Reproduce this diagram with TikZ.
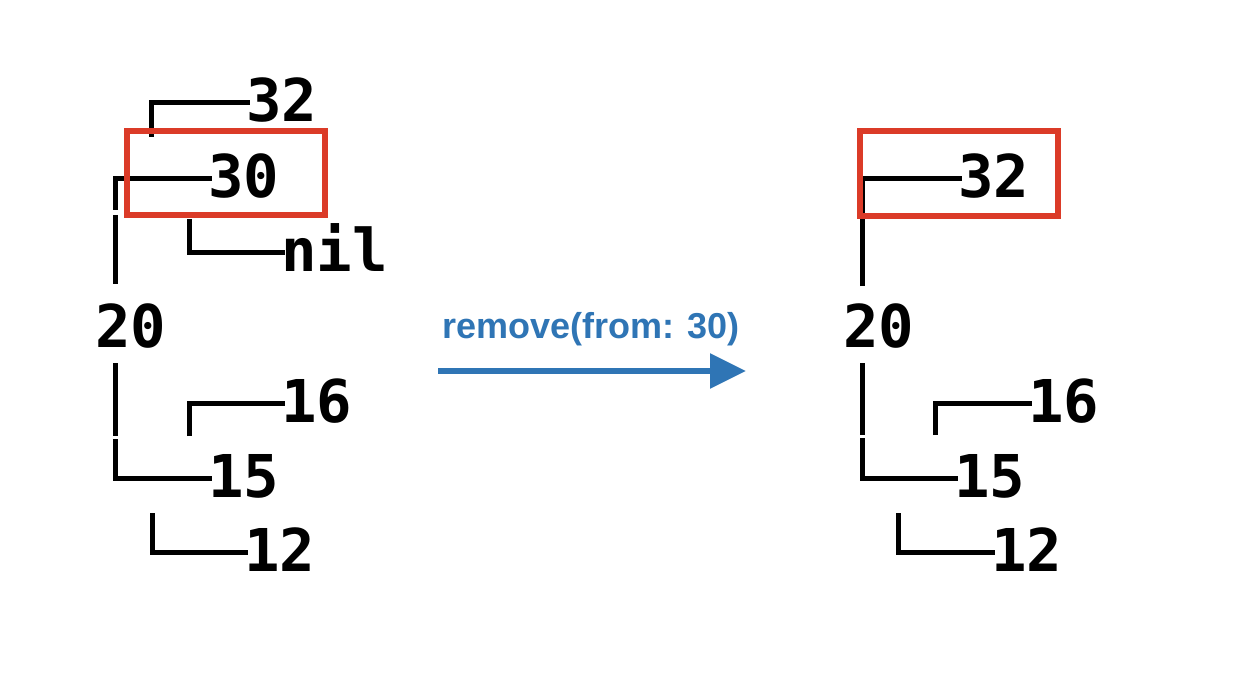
\documentclass[tikz,border=0pt]{standalone}
\usepackage{fontspec}
\usetikzlibrary{arrows.meta}
\newfontfamily\monof{DejaVu Sans Mono}
\newfontfamily\labf{Liberation Sans}
\definecolor{boxred}{HTML}{DB3B28}
\definecolor{arrowblue}{HTML}{2F75B5}
\tikzset{
  tnode/.style={font=\monof\bfseries\fontsize{59}{59}\selectfont, inner sep=0pt, outer sep=0pt,
    text height=38pt, text depth=0pt, anchor=west},
  br/.style={line width=5pt, shorten >=-4pt},
  vbar/.style={line width=5pt},
  hl/.style={draw=boxred, line width=6pt},
}
\begin{document}
\begin{tikzpicture}[x=1pt,y=-1pt]
\useasboundingbox[fill=white] (0,0) rectangle (1246,676);
% ---- left tree
\node[tnode] (L32) at (246,103) {32};
\node[tnode] (L30) at (208,179) {30};
\node[tnode] (Lnil) at (281,252) {nil};
\node[tnode] (L20) at (95,328) {20};
\node[tnode] (L16) at (281,403) {16};
\node[tnode] (L15) at (208,478) {15};
\node[tnode] (L12) at (244,552) {12};
\coordinate (c32) at (151,137);
\coordinate (c30) at (115,210);
\coordinate (v1a) at (115,215);
\coordinate (v1b) at (115,284);
\coordinate (cnil) at (189,219);
\coordinate (v2a) at (115,363);
\coordinate (v2b) at (115,436);
\coordinate (c16) at (189,436);
\coordinate (c15) at (115,439);
\coordinate (c12) at (152,513);
\draw[br] (c32) |- (L32.west);
\draw[br] (c30) |- (L30.west);
\draw[vbar] (v1a) -- (v1b);
\draw[br] (cnil) |- (Lnil.west);
\draw[vbar] (v2a) -- (v2b);
\draw[br] (c16) |- (L16.west);
\draw[br] (c15) |- (L15.west);
\draw[br] (c12) |- (L12.west);
\node[hl, inner sep=0pt, minimum width=198pt, minimum height=84pt] (Lbox) at (226,173) {};
% ---- arrow
\coordinate (a1) at (438,371);
\coordinate (a2) at (746,371);
\draw[draw=arrowblue, line width=6pt, -{Triangle[length=36pt,width=34pt]}] (a1) -- (a2);
\node[font=\labf\bfseries\fontsize{36}{36}\selectfont, text=arrowblue, anchor=base, inner sep=0pt] (lab) at (591,338) {remove(from: 30)};
% ---- right tree
\node[tnode] (R32) at (958,179) {32};
\node[tnode] (R20) at (843,328) {20};
\node[tnode] (R16) at (1028,403) {16};
\node[tnode] (R15) at (954,478) {15};
\node[tnode] (R12) at (991,552) {12};
\coordinate (cr32) at (862,286);
\coordinate (rv2a) at (862,363);
\coordinate (rv2b) at (862,435);
\coordinate (cr16) at (935,435);
\coordinate (cr15) at (862,438);
\coordinate (cr12) at (898,513);
\draw[br] (cr32) |- (R32.west);
\draw[vbar] (rv2a) -- (rv2b);
\draw[br] (cr16) |- (R16.west);
\draw[br] (cr15) |- (R15.west);
\draw[br] (cr12) |- (R12.west);
\node[hl, inner sep=0pt, minimum width=198pt, minimum height=85pt] (Rbox) at (959,173.5) {};
\end{tikzpicture}
\end{document}
